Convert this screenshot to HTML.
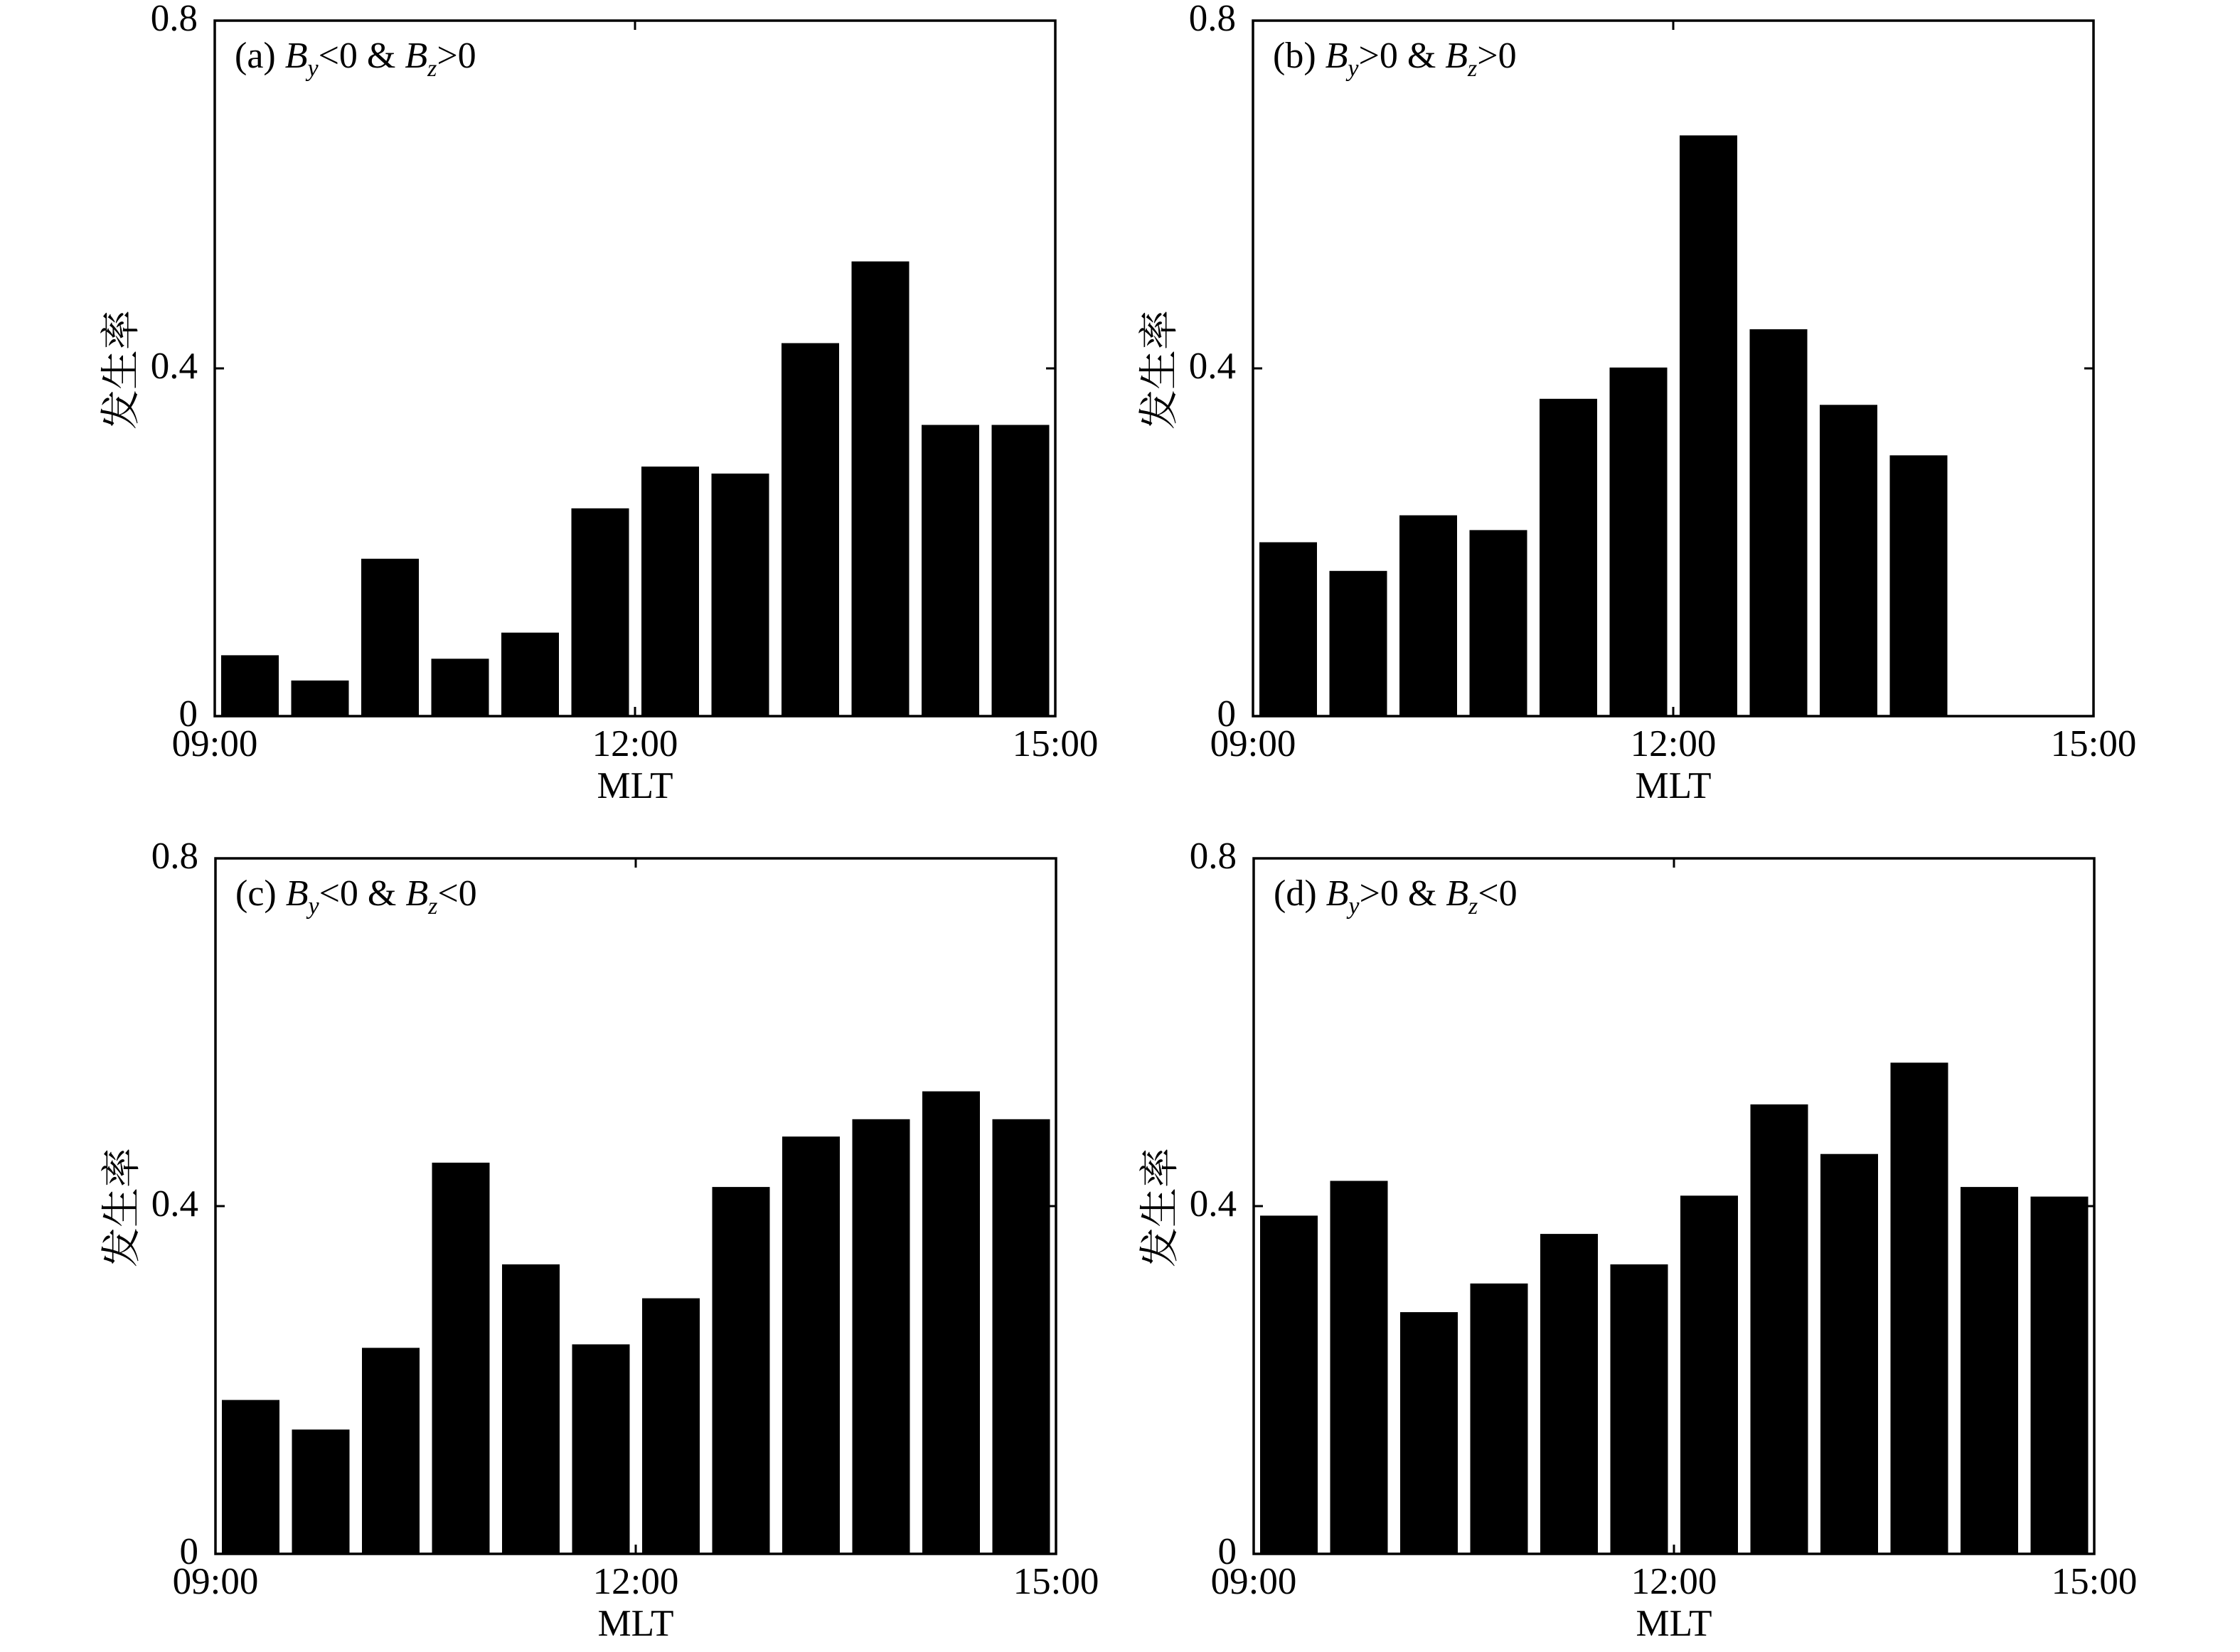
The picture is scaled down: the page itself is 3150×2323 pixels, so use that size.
<!DOCTYPE html>
<html><head><meta charset="utf-8"><style>
html,body{margin:0;padding:0;background:#fff;}
svg text{font-family:"Liberation Serif","Noto Serif CJK SC",serif;fill:#000;}
</style></head><body>
<svg width="3150" height="2318" viewBox="0 0 3150 2318" xmlns="http://www.w3.org/2000/svg">
<g id="panels"></g>
</svg>
<script>
const panels=[
 {x:302,y:29,lab:["(a) ","<",">"],vals:[0.070,0.041,0.181,0.066,0.096,0.239,0.287,0.279,0.429,0.523,0.335,0.335]},
 {x:1762,y:29,lab:["(b) ",">",">"],vals:[0.2,0.167,0.231,0.214,0.365,0.401,0.668,0.445,0.358,0.3]},
 {x:303,y:1207,lab:["(c) ","<","<"],vals:[0.177,0.143,0.237,0.450,0.333,0.241,0.294,0.422,0.480,0.5,0.532,0.5]},
 {x:1763,y:1207,lab:["(d) ",">","<"],vals:[0.389,0.429,0.278,0.311,0.368,0.333,0.412,0.517,0.460,0.565,0.422,0.411]}
];
const W=1182,H=978;let s="";
for(const p of panels){
 const x=p.x,y=p.y,b=y+H,slot=W/12;
 p.vals.forEach((v,i)=>{const h=v/0.8*H;s+=`<rect x="${(x+i*slot+9).toFixed(1)}" y="${(b-h).toFixed(1)}" width="81" height="${h.toFixed(1)}" fill="#000"/>`;});
 s+=`<rect x="${x}" y="${y}" width="${W}" height="${H}" fill="none" stroke="#000" stroke-width="3.5"/>`;
 s+=`<line x1="${x}" y1="${y+H/2}" x2="${x+13}" y2="${y+H/2}" stroke="#000" stroke-width="3"/>`;
 s+=`<line x1="${x+W}" y1="${y+H/2}" x2="${x+W-13}" y2="${y+H/2}" stroke="#000" stroke-width="3"/>`;
 s+=`<line x1="${x+W/2}" y1="${b}" x2="${x+W/2}" y2="${b-13}" stroke="#000" stroke-width="3"/>`;
 s+=`<line x1="${x+W/2}" y1="${y}" x2="${x+W/2}" y2="${y+13}" stroke="#000" stroke-width="3"/>`;
 [[0,b],[0.4,y+H/2],[0.8,y]].forEach(([t,ty])=>{s+=`<text x="${x-24}" y="${ty+14}" font-size="53" text-anchor="end">${t}</text>`;});
 ["09:00","12:00","15:00"].forEach((t,i)=>{s+=`<text x="${x+i*W/2}" y="${b+56}" font-size="53" text-anchor="middle">${t}</text>`;});
 s+=`<text x="${x+W/2}" y="${b+115}" font-size="53" text-anchor="middle">MLT</text>`;
 s+=`<text transform="translate(${x-136},${y+H/2+2}) rotate(-90)" font-size="56" text-anchor="middle" dominant-baseline="central" style="font-family:'Noto Serif CJK SC','Noto Sans CJK SC',serif">发生率</text>`;
 s+=`<text x="${x+28}" y="${y+66}" font-size="52">${p.lab[0]}<tspan font-style="italic">B</tspan><tspan font-style="italic" font-size="34" dy="12">y</tspan><tspan dy="-12">${p.lab[1]==="<"?"&lt;":"&gt;"}0 &amp; </tspan><tspan font-style="italic">B</tspan><tspan font-style="italic" font-size="34" dy="12">z</tspan><tspan dy="-12">${p.lab[2]==="<"?"&lt;":"&gt;"}0</tspan></text>`;
}
document.getElementById("panels").innerHTML=s;
</script>
</body></html>
